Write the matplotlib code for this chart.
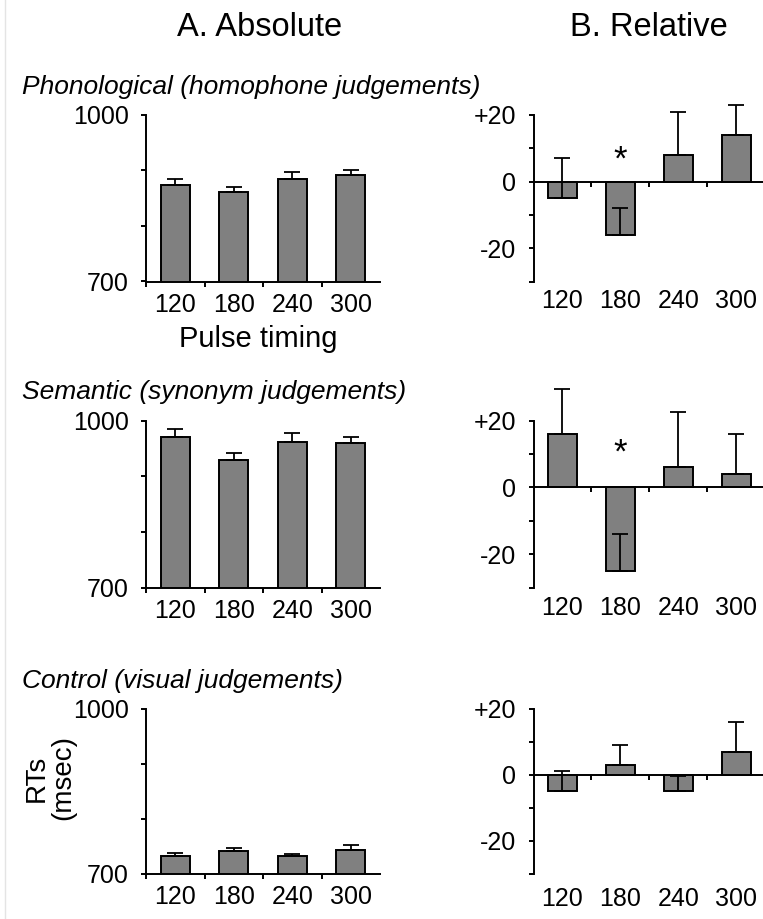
import matplotlib
matplotlib.use("Agg")
import matplotlib.pyplot as plt
from matplotlib.lines import Line2D

# ---------------- data ----------------
categories = ['120', '180', '240', '300']

row_titles = ['Phonological (homophone judgements)',
              'Semantic (synonym judgements)',
              'Control (visual judgements)']

abs_phon = [873, 862, 884, 892]
abs_phon_err = [12, 8, 13, 9]
rel_phon = [-5, -16, 8, 14]
rel_phon_err = [12, 8, 13, 9]

abs_sem = [971, 929, 961, 959]
abs_sem_err = [13, 12, 17, 12]
rel_sem = [16, -25, 6, 4]
rel_sem_err = [13.5, 11, 16.5, 12]

abs_ctrl = [732, 741, 732, 743]
abs_ctrl_err = [6, 5, 4.5, 9]
rel_ctrl = [-5, 3, -5, 7]
rel_ctrl_err = [6, 6, 4.5, 9]

star_index = [1, 1, None]      # significant timing per row
star_height = [8, 12, None]

abs_ticks = [700, 1000]
abs_minor = [800, 900]
rel_ticks = [-20, 0, 20]
rel_ticklabels = ['-20', '0', '+20']
rel_minor = [-30, -10, 10]

# ---------------- style ----------------
plt.rcParams['font.family'] = ['Liberation Sans', 'DejaVu Sans']
W, H = 763, 919
fig = plt.figure(figsize=(W / 100, H / 100), dpi=100)

BAR = '#808080'
LW = 1.4
TICK_FS = 18

# pixel geometry of each row (top, bottom of the value axis)
rows_px = [(115, 281.5), (420.5, 587.8), (708.7, 873.6)]
left_x = (146, 380)
right_x = (533.5, 763)
right_lbl_off = [5.5, 6.0, 10.0]   # points below axes bottom


def px_axes(x0, x1, top, bottom):
    return fig.add_axes([x0 / W, 1 - bottom / H, (x1 - x0) / W, (bottom - top) / H])


abs_data = [(abs_phon, abs_phon_err), (abs_sem, abs_sem_err), (abs_ctrl, abs_ctrl_err)]
rel_data = [(rel_phon, rel_phon_err), (rel_sem, rel_sem_err), (rel_ctrl, rel_ctrl_err)]

xs = list(range(len(categories)))

for r in range(3):
    top, bottom = rows_px[r]
    # ---------- absolute ----------
    ax = px_axes(left_x[0], left_x[1], top, bottom)
    vals, errs = abs_data[r]
    ax.bar(xs, vals, width=0.5, color=BAR, edgecolor='black', linewidth=LW,
           zorder=2, clip_on=True)
    ax.errorbar(xs, vals, yerr=[[0] * 4, errs], fmt='none', ecolor='black',
                elinewidth=1.3, capsize=6, capthick=1.3, zorder=3, clip_on=False)
    ax.set_xlim(-0.5, 3.5)
    ax.set_ylim(700, 1000)
    for s in ['top', 'right']:
        ax.spines[s].set_visible(False)
    for s in ['left', 'bottom']:
        ax.spines[s].set_linewidth(LW)
        ax.spines[s].set_zorder(4)
    ax.set_yticks(abs_ticks)
    ax.set_yticklabels([str(t) for t in abs_ticks])
    ax.set_yticks(abs_minor, minor=True)
    ax.set_xticks(xs)
    ax.set_xticklabels(categories)
    ax.set_xticks([-0.5, 0.5, 1.5, 2.5], minor=True)
    ax.tick_params(axis='y', which='both', direction='out', length=3.5, width=LW,
                   pad=9, labelsize=TICK_FS)
    ax.tick_params(axis='x', which='major', length=0, pad=8, labelsize=TICK_FS)
    ax.tick_params(axis='x', which='minor', direction='out', length=3.5, width=LW)

    # ---------- relative ----------
    ax2 = px_axes(right_x[0], right_x[1], top, bottom)
    vals, errs = rel_data[r]
    ax2.bar(xs, vals, width=0.5, color=BAR, edgecolor='black', linewidth=LW,
            zorder=2, clip_on=False)
    ax2.errorbar(xs, vals, yerr=[[0] * 4, errs], fmt='none', ecolor='black',
                 elinewidth=1.3, capsize=6, capthick=1.3, zorder=3, clip_on=False)
    ax2.set_xlim(-0.5, 3.464)
    ax2.set_ylim(-30, 20)
    for s in ['top', 'right']:
        ax2.spines[s].set_visible(False)
    ax2.spines['bottom'].set_position(('data', 0))
    for s in ['left', 'bottom']:
        ax2.spines[s].set_linewidth(LW)
        ax2.spines[s].set_zorder(4)
    ax2.set_yticks(rel_ticks)
    ax2.set_yticklabels(rel_ticklabels)
    ax2.set_yticks(rel_minor, minor=True)
    ax2.set_xticks([0.5, 1.5, 2.5])
    ax2.set_xticklabels([])
    ax2.tick_params(axis='y', which='both', direction='out', length=3.5, width=LW,
                    pad=9, labelsize=TICK_FS)
    ax2.tick_params(axis='x', which='major', direction='out', length=3.5, width=LW)
    for i, c in enumerate(categories):
        ax2.annotate(c, xy=(i, 0), xycoords=('data', 'axes fraction'),
                     xytext=(0, -right_lbl_off[r]), textcoords='offset points',
                     ha='center', va='top', fontsize=TICK_FS, annotation_clip=False)
    if star_index[r] is not None:
        ax2.annotate('*', xy=(star_index[r], star_height[r]), xytext=(0, -4),
                     textcoords='offset points', ha='center', va='center',
                     fontsize=25)

    # row title
    fig.text(22 / W, 1 - (top - 28) / H, row_titles[r], ha='left', va='center',
             fontsize=19, style='italic')

# column titles
fig.text(260 / W, 1 - 28 / H, 'A. Absolute', ha='center', va='center', fontsize=23.5)
fig.text(649 / W, 1 - 28 / H, 'B. Relative', ha='center', va='center', fontsize=23.5)

# axis label texts
fig.text(258 / W, 1 - 339 / H, 'Pulse timing', ha='center', va='center', fontsize=21)
fig.text(50 / W, 1 - 778 / H, 'RTs\n(msec)', ha='center', va='center',
         rotation=90, fontsize=20, multialignment='center', linespacing=1.05)

# faint scan border at the left
fig.add_artist(Line2D([4.5 / W, 4.5 / W], [0, 1], color='#e4e4e4', lw=1,
                      transform=fig.transFigure))

fig.savefig('out.png', dpi=100)
